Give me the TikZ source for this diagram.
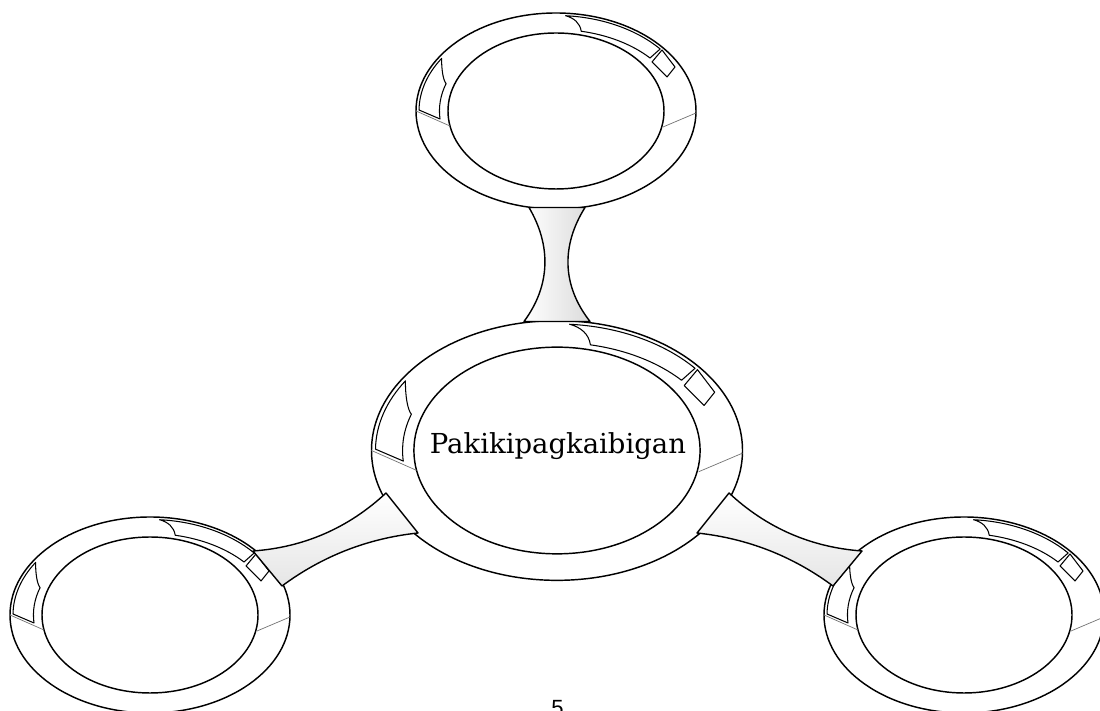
\documentclass[tikz,border=0pt]{standalone}
\usepackage{fontspec}
\setmainfont{DejaVu Serif}
\newfontfamily\numfont{Liberation Sans}
\begin{document}
\begin{tikzpicture}[x=1pt,y=1pt,
  ringline/.style={line width=1.45pt, draw=black},
  bandline/.style={line width=1.05pt, draw=black, line join=round},
  divline/.style={line width=0.7pt, draw=black!55},
  conn/.style={line width=1.4pt, draw=black, line join=round},
  ring/.pic={
    \draw[ringline, fill=white] (0,0) ellipse[x radius=140, y radius=98];
    \draw[ringline] (0,0) ellipse[x radius=108, y radius=78];
    \draw[divline] (-140,0) -- (-106,-15);
    \draw[divline] (140,-2) -- (107,-16);
    % top-right band
    \draw[bandline] (86:137 and 95.5)
      arc[start angle=86, end angle=40.5, x radius=137, y radius=95.5]
      -- (94,53)
      arc[start angle=40.7, end angle=78, x radius=125, y radius=82]
      .. controls (24,88) and (18,93) .. (9.56,95.27) -- cycle;
    % small square
    \draw[bandline] (106,61) -- (119,44) -- (111,34) -- (96,49) -- cycle;
    % left band
    \draw[bandline] (146.6:137 and 95.5)
      arc[start angle=146.6, end angle=179.4, x radius=137, y radius=95.5]
      -- (-116,-8)
      arc[start angle=185.6, end angle=160.5, x radius=116, y radius=82]
      .. controls (-113,31) and (-114.5,42) .. (-114.4,52.6) -- cycle;
  }]
\useasboundingbox (0,0) rectangle (1100,711);

% ring centres
\coordinate (topc) at (556,600);
\coordinate (midc) at (557,260.5);
\coordinate (leftc) at (150,96);
\coordinate (rightc) at (964,96);

\pic at (topc) {ring};
\pic[scale=1.325] at (midc) {ring};
\pic at (leftc) {ring};
\pic at (rightc) {ring};

% connector corners
\coordinate (t1) at (529,503.5);
\coordinate (t2) at (585,503.5);
\coordinate (t3) at (590,389.5);
\coordinate (t4) at (524,389.5);

\coordinate (l1) at (253,160);
\coordinate (l2) at (386,218);
\coordinate (l3) at (418,178);
\coordinate (l4) at (282,125);

\coordinate (r1) at (862,160);
\coordinate (r2) at (729,218);
\coordinate (r3) at (697,178);
\coordinate (r4) at (833,125);

% top connector
\draw[conn, left color=white, middle color=white, right color=black!14]
  (t1) -- (t2) .. controls (561.5,466) and (561.5,426) .. (t3)
  -- (t4) .. controls (551,426) and (551,466) .. (t1) -- cycle;

% left connector
\draw[conn, top color=white, middle color=white, bottom color=black!10]
  (l1) .. controls (304,163.7) and (348.5,183) .. (l2)
  -- (l3) .. controls (367.9,172.7) and (322.5,155) .. (l4) -- cycle;

% right connector
\draw[conn, top color=white, middle color=white, bottom color=black!10]
  (r1) .. controls (811,163.7) and (766.5,183) .. (r2)
  -- (r3) .. controls (747.1,172.7) and (792.5,155) .. (r4) -- cycle;

\node[font=\fontsize{27.5}{33}\selectfont, anchor=base, inner sep=0] (title) at (558,257) {Pakikipagkaibigan};
\node[font=\numfont\fontsize{22}{26}\selectfont, inner sep=0, anchor=north] (pagenum) at (557.5,11) {5};
\end{tikzpicture}
\end{document}
